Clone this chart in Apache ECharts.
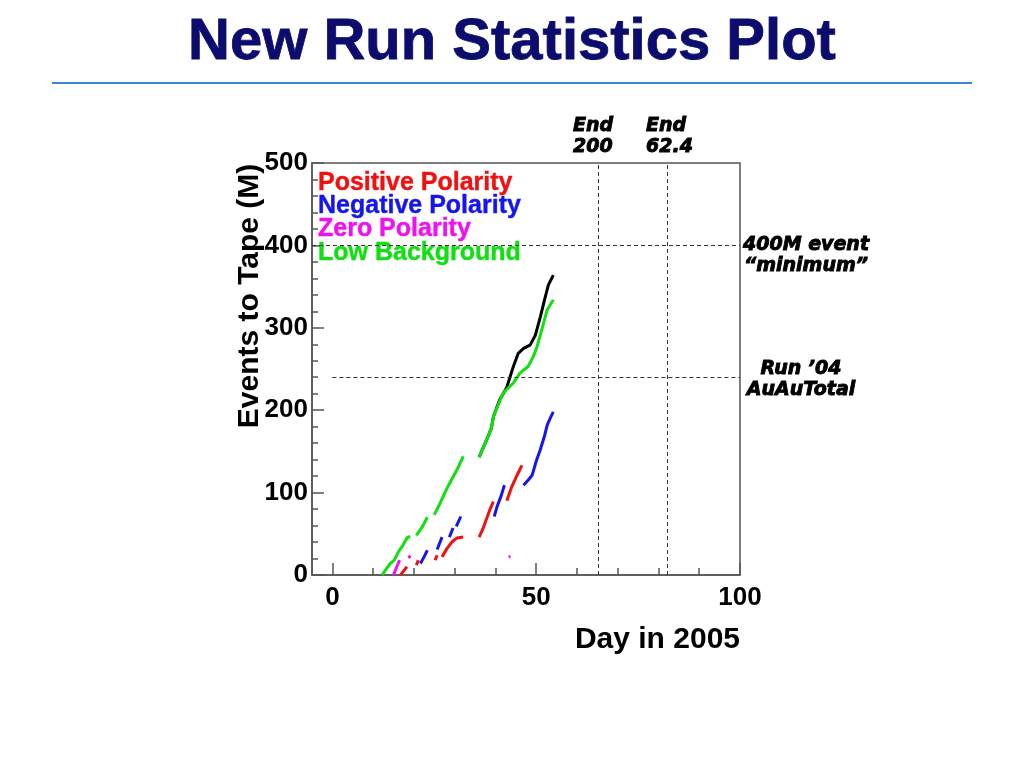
<!DOCTYPE html>
<html>
<head>
<meta charset="utf-8">
<script src="https://cdn.jsdelivr.net/npm/echarts@6/dist/echarts.min.js"></script>
<style>
html,body{margin:0;padding:0;background:#fff;}
#chart{width:1024px;height:768px;}
</style>
</head>
<body>
<div id="chart"></div>
<script>
// ---- data ----
const seriesNames = ['Positive Polarity', 'Negative Polarity', 'Zero Polarity', 'Low Background'];
const seriesColors = ['#f01010', '#1515f0', '#f010f0', '#10e010'];

// each series: list of run segments, [day, events (M)]
const positivePolarity = [
  [[16.7,0],[17.5,5],[18.3,10]],
  [[20.6,12],[21.1,18]],
  [[25.2,18],[25.7,24]],
  [[26.9,22],[28.1,32],[29.3,40],[30.6,45],[32.1,46]],
  [[36,46],[37,57],[37.8,68],[38.7,80],[39.5,89]],
  [[42.8,90],[44,107],[45,118],[46.5,133]]
];
const negativePolarity = [
  [[21.6,14],[22.5,22],[23.3,30]],
  [[25.7,31],[26.9,46]],
  [[28.7,46],[29.6,57]],
  [[30.4,59],[31.5,71]],
  [[39.7,71],[40.4,83],[41.4,96],[42.2,109]],
  [[46.9,109],[48,115],[49,121],[50,138],[51,152],[52,168],[52.7,182],[53.5,191],[54.2,198]]
];
const zeroPolarity = [
  [[15,0],[15.8,10],[16.5,18]],
  [[18.6,21],[19.2,23]],
  [[43.2,22],[43.7,22.3]]
];
const lowBackground = [
  [[12.2,0],[13.2,7],[14.2,14],[15.2,18],[16.2,28],[17.3,36],[18.3,45],[19.1,47]],
  [[20.6,48],[22,58],[23.3,70]],
  [[25,73],[26.5,88],[28,104],[29.5,118],[31,132],[32.1,144]],
  [[36,143],[37.5,160],[39,178],[39.5,192],[41.9,221],[44.4,233],[46,245],[48,253],[49.3,265],[50.2,277],[51.5,300],[52.7,322],[54.2,334]]
];
const allEvents = [
  [[36,143],[37.5,160],[39,178],[39.5,192],[41,212],[42.8,228],[44.4,253],[45.6,269],[46.9,275],[48.5,279],[49.8,291],[51,313],[52.2,337],[53,352],[54.2,364]]
];

// reference guides
const goalEvents = 400;          // 400M event "minimum"
const run04AuAuTotal = 240;      // Run '04 AuAu total
const endDays = [65.2, 82.1];    // End 200, End 62.4

const xMajorTicks = [0, 50, 100];
const xMinorTicks = [10, 20, 30, 40, 60, 70, 80, 90];

function withGaps(segs) {
  const out = [];
  segs.forEach((s, i) => {
    if (i > 0) out.push(['-', '-']);
    s.forEach(p => out.push(p));
  });
  return out;
}

const FONT = '"Liberation Sans", Arial, sans-serif';
const NOTE_FONT = '"DejaVu Sans", sans-serif';

const chart = echarts.init(document.getElementById('chart'), null, {renderer: 'canvas'});

function lineSeries(name, segs, color, z) {
  return {
    name: name,
    type: 'line',
    data: withGaps(segs),
    showSymbol: false,
    connectNulls: false,
    lineStyle: {color: color, width: 3},
    itemStyle: {color: color},
    z: z,
    silent: true,
    animation: false
  };
}

const noteStyle = {
  fontFamily: NOTE_FONT,
  fontWeight: 'bold',
  fontStyle: 'italic',
  fontSize: 19,
  lineHeight: 21,
  fill: '#000',
  stroke: '#000',
  lineWidth: 0.9
};

const option = {
  animation: false,
  backgroundColor: '#fff',
  title: {
    text: 'New Run Statistics Plot',
    left: 'center',
    top: 9,
    textStyle: {fontFamily: FONT, fontWeight: 'bold', fontSize: 58, color: '#0c0c6e', textBorderColor: '#0c0c6e', textBorderWidth: 0.8}
  },
  legend: {
    data: seriesNames.map((n, i) => ({name: n, textStyle: {color: seriesColors[i], textBorderColor: seriesColors[i], textBorderWidth: 0.4}})),
    orient: 'vertical',
    left: 313,
    top: 170,
    padding: 0,
    itemGap: -2,
    itemWidth: 0,
    itemHeight: 10,
    icon: 'none',
    selectedMode: false,
    textStyle: {fontFamily: FONT, fontWeight: 'bold', fontSize: 25, lineHeight: 23}
  },
  grid: {
    left: 312, top: 163, width: 428, height: 412,
    show: true, borderColor: '#555', borderWidth: 1.5, backgroundColor: 'transparent'
  },
  xAxis: [
    {
      type: 'value', min: -5, max: 100,
      axisLine: {show: true, onZero: false, lineStyle: {color: '#555', width: 1.5}},
      axisTick: {show: true, inside: true, length: 12, customValues: xMajorTicks, lineStyle: {color: '#555', width: 1.5}},
      axisLabel: {show: true, customValues: xMajorTicks, margin: 10, fontFamily: FONT, fontWeight: 'bold', fontSize: 26, color: '#000'},
      splitLine: {show: false}
    },
    {
      type: 'value', min: -5, max: 100, position: 'bottom',
      axisLine: {show: false, onZero: false},
      axisTick: {show: true, inside: true, length: 7, customValues: xMinorTicks, lineStyle: {color: '#555', width: 1.5}},
      axisLabel: {show: false},
      splitLine: {show: false}
    }
  ],
  yAxis: {
    type: 'value', min: 0, max: 500, interval: 100,
    axisLine: {show: true, onZero: false, lineStyle: {color: '#555', width: 1.5}},
    axisTick: {show: true, inside: true, length: 12, lineStyle: {color: '#555', width: 1.5}},
    minorTick: {show: true, splitNumber: 5, length: 6, lineStyle: {color: '#555', width: 1.5}},
    axisLabel: {margin: 4, fontFamily: FONT, fontWeight: 'bold', fontSize: 26, color: '#000'},
    splitLine: {show: false}
  },
  series: [
    Object.assign(lineSeries('All', allEvents, '#000', 2), {
      markLine: {
        silent: true,
        symbol: ['none', 'none'],
        label: {show: false},
        lineStyle: {color: '#333', width: 1, type: [4, 3]},
        data: [
          [{coord: [-5, goalEvents]}, {coord: [100, goalEvents]}],
          [{coord: [0, run04AuAuTotal]}, {coord: [100, run04AuAuTotal]}],
          [{coord: [endDays[0], 0]}, {coord: [endDays[0], 500]}],
          [{coord: [endDays[1], 0]}, {coord: [endDays[1], 500]}]
        ]
      }
    }),
    lineSeries(seriesNames[3], lowBackground, seriesColors[3], 3),
    lineSeries(seriesNames[0], positivePolarity, seriesColors[0], 4),
    lineSeries(seriesNames[1], negativePolarity, seriesColors[1], 4),
    lineSeries(seriesNames[2], zeroPolarity, seriesColors[2], 5)
  ],
  graphic: [
    {type: 'line', shape: {x1: 52, y1: 83, x2: 972, y2: 83}, style: {stroke: '#3b86d4', lineWidth: 2}},
    {type: 'text', x: 250, y: 296, rotation: Math.PI / 2,
      style: {text: 'Events to Tape (M)', fontFamily: FONT, fontWeight: 'bold', fontSize: 30, fill: '#000', textAlign: 'center', textVerticalAlign: 'middle'}},
    {type: 'text', x: 740, y: 640,
      style: {text: 'Day in 2005', fontFamily: FONT, fontWeight: 'bold', fontSize: 30, fill: '#000', textAlign: 'right', textVerticalAlign: 'middle'}},
    {type: 'text', x: 573, y: 137, style: Object.assign({text: 'End\n200', textAlign: 'left', textVerticalAlign: 'middle'}, noteStyle)},
    {type: 'text', x: 646, y: 137, style: Object.assign({text: 'End\n62.4', textAlign: 'left', textVerticalAlign: 'middle'}, noteStyle)},
    {type: 'text', x: 806, y: 256, style: Object.assign({text: '400M event\n\u201Cminimum\u201D', textAlign: 'center', textVerticalAlign: 'middle'}, noteStyle)},
    {type: 'text', x: 801, y: 380, style: Object.assign({text: 'Run \u201904\nAuAuTotal', textAlign: 'center', textVerticalAlign: 'middle'}, noteStyle)}
  ]
};

chart.setOption(option);
</script>
</body>
</html>
